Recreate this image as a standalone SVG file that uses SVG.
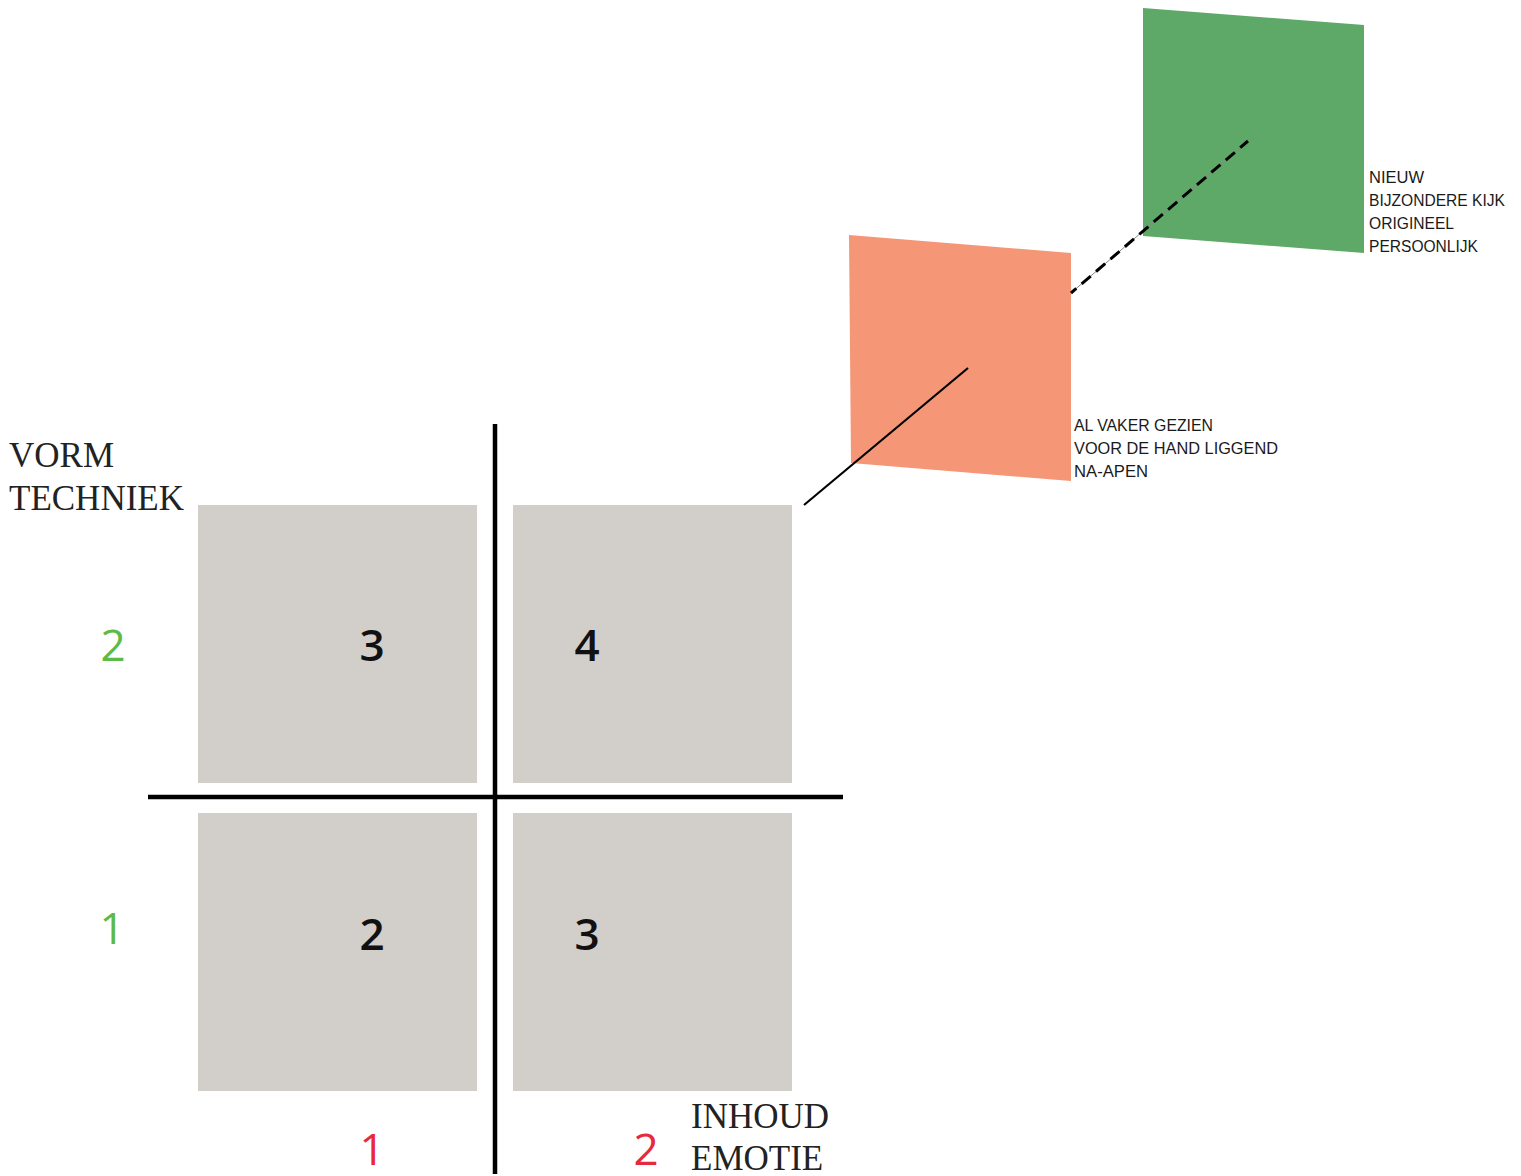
<svg xmlns="http://www.w3.org/2000/svg" width="1521" height="1176" viewBox="0 0 1521 1176">
<style>
.box{fill:#d2ceca}
.axis{stroke:#000;stroke-width:4.5;fill:none}
.serif{font-family:"Liberation Serif","Times New Roman",serif;font-size:35px;fill:#222}
.num{font-family:"Open Sans","Liberation Sans",sans-serif;font-size:44px}
.blk{fill:#111;font-weight:600}
.grn{fill:#5cbb46}
.red{fill:#e8283c}
.small{font-family:"Liberation Sans",Arial,sans-serif;font-size:16px;fill:#1a1a1a}
</style>
<rect width="1521" height="1176" fill="#fff"/>
<g id="quadrant-tl"><rect class="box" x="198" y="505" width="279" height="278"/><text class="num blk" x="372" y="661" text-anchor="middle">3</text></g>
<g id="quadrant-tr"><rect class="box" x="513" y="505" width="279" height="278"/><text class="num blk" x="587" y="661" text-anchor="middle">4</text></g>
<g id="quadrant-bl"><rect class="box" x="198" y="813" width="279" height="278"/><text class="num blk" x="372" y="950" text-anchor="middle">2</text></g>
<g id="quadrant-br"><rect class="box" x="513" y="813" width="279" height="278"/><text class="num blk" x="587" y="950" text-anchor="middle">3</text></g>
<g id="axes">
<line class="axis" x1="495" y1="424" x2="495" y2="1174"/>
<line class="axis" x1="148" y1="797" x2="843" y2="797"/>
</g>
<g id="axis-labels">
<text class="serif" x="9" y="467">VORM</text>
<text class="serif" x="9" y="510">TECHNIEK</text>
<text class="serif" x="691" y="1128">INHOUD</text>
<text class="serif" x="691" y="1170">EMOTIE</text>
<text class="num grn" x="113" y="661" text-anchor="middle">2</text>
<text class="num grn" x="112" y="944" text-anchor="middle">1</text>
<text class="num red" x="372" y="1165" text-anchor="middle">1</text>
<text class="num red" x="646" y="1165" text-anchor="middle">2</text>
</g>
<g id="orange-plane">
<polygon points="849,235 1071,253 1071,481 851,463" fill="#f59677"/>
<text class="small"><tspan x="1074" y="431" textLength="139" lengthAdjust="spacingAndGlyphs">AL VAKER GEZIEN</tspan><tspan x="1074" y="454" textLength="204" lengthAdjust="spacingAndGlyphs">VOOR DE HAND LIGGEND</tspan><tspan x="1074" y="477" textLength="74" lengthAdjust="spacingAndGlyphs">NA-APEN</tspan></text>
</g>
<g id="green-plane">
<polygon points="1143,8 1364,25 1364,253 1143,236" fill="#5ea868"/>
<text class="small"><tspan x="1369" y="183" textLength="55" lengthAdjust="spacingAndGlyphs">NIEUW</tspan><tspan x="1369" y="206" textLength="136" lengthAdjust="spacingAndGlyphs">BIJZONDERE KIJK</tspan><tspan x="1369" y="229" textLength="85" lengthAdjust="spacingAndGlyphs">ORIGINEEL</tspan><tspan x="1369" y="252" textLength="109" lengthAdjust="spacingAndGlyphs">PERSOONLIJK</tspan></text>
</g>
<g id="connectors">
<line x1="804" y1="505" x2="968" y2="368" stroke="#000" stroke-width="2.2"/>
<line x1="1071" y1="293" x2="1248" y2="141" stroke="#888" stroke-width="1"/>
<line x1="1071" y1="293" x2="1248" y2="141" stroke="#000" stroke-width="3" stroke-dasharray="12,7" stroke-dashoffset="-14"/>
</g>
</svg>
